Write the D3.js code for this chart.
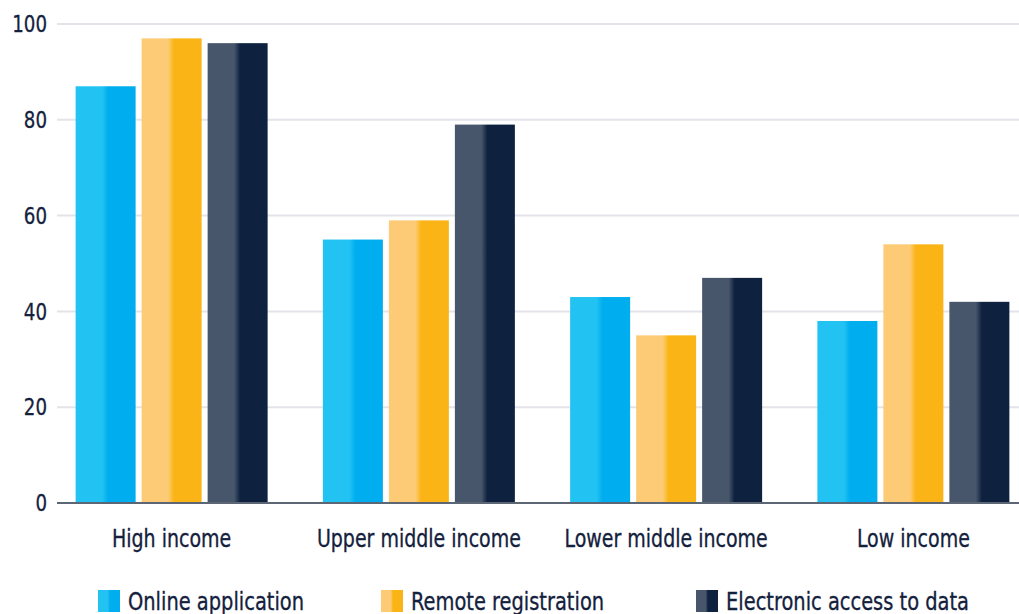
<!DOCTYPE html>
<html>
<head>
<meta charset="utf-8">
<script src="https://cdn.jsdelivr.net/npm/d3@7"></script>
<style>
  html, body { margin: 0; padding: 0; background: #ffffff; }
  svg { display: block; }
  text { font-family: "DejaVu Sans Condensed", "DejaVu Sans", sans-serif; fill: #14213d; }
</style>
</head>
<body>
<svg id="chart" width="1019" height="614"></svg>
<script>
// Income groups and the three e-service indicators (share, %)
const categories = ["High income", "Upper middle income", "Lower middle income", "Low income"];
const seriesNames = ["Online application", "Remote registration", "Electronic access to data"];
const onlineApplication = [87, 55, 43, 38];
const remoteRegistration = [97, 59, 35, 54];
const electronicAccess = [96, 79, 47, 42];
const yTicks = [0, 20, 40, 60, 80, 100];

const seriesValues = [onlineApplication, remoteRegistration, electronicAccess];
// Two-tone fills: lighter left half, darker right half
const seriesColors = [
  { light: "#22c3f3", dark: "#00aeef" },
  { light: "#fdcb76", dark: "#fbb416" },
  { light: "#48566b", dark: "#0e2240" }
];

const svg = d3.select("#chart");
const plotLeft = 57, plotRight = 1019, plotTop = 24, plotBottom = 503;
const narrow = 0.88; // horizontal squeeze for the condensed lettering

const defs = svg.append("defs");
seriesColors.forEach((c, i) => {
  const g = defs.append("linearGradient")
    .attr("id", "grad" + i)
    .attr("x1", "0%").attr("x2", "100%").attr("y1", "0%").attr("y2", "0%");
  g.append("stop").attr("offset", "0%").attr("stop-color", c.light);
  g.append("stop").attr("offset", "44%").attr("stop-color", c.light);
  g.append("stop").attr("offset", "54%").attr("stop-color", c.dark);
  g.append("stop").attr("offset", "100%").attr("stop-color", c.dark);
});

const y = d3.scaleLinear().domain([0, 100]).range([plotBottom, plotTop]);
const x0 = d3.scaleBand().domain(categories).range([48, 1037]).padding(0);
const groupWidth = 192;
const x1 = d3.scaleBand().domain(d3.range(seriesNames.length))
  .range([0, groupWidth]).paddingInner(6 / 66).paddingOuter(0);

// Gridlines
svg.append("g")
  .selectAll("line")
  .data(yTicks.filter(t => t !== 0))
  .join("line")
  .attr("x1", plotLeft).attr("x2", plotRight)
  .attr("y1", d => y(d)).attr("y2", d => y(d))
  .attr("stroke", "#e2e4ea").attr("stroke-width", 2);

// Y tick labels
svg.append("g")
  .selectAll("text")
  .data(yTicks)
  .join("text")
  .attr("transform", d => `translate(47,${y(d)}) scale(${narrow},1)`)
  .attr("text-anchor", "end")
  .attr("dy", "0.36em")
  .attr("font-size", 23)
  .attr("stroke", "#14213d").attr("stroke-width", 0.3)
  .text(d => d);

// Bars
const groups = svg.append("g")
  .selectAll("g")
  .data(categories)
  .join("g")
  .attr("transform", d => `translate(${x0(d) + (x0.bandwidth() - groupWidth) / 2},0)`);

groups.selectAll("rect")
  .data((d, ci) => seriesValues.map((vals, si) => ({ si, v: vals[ci] })))
  .join("rect")
  .attr("x", d => x1(d.si))
  .attr("width", x1.bandwidth())
  .attr("y", d => y(d.v))
  .attr("height", d => y(0) - y(d.v))
  .attr("fill", d => `url(#grad${d.si})`);

// Baseline
svg.append("line")
  .attr("x1", plotLeft).attr("x2", plotRight)
  .attr("y1", y(0)).attr("y2", y(0))
  .attr("stroke", "#5d6675").attr("stroke-width", 2);

// Category labels
svg.append("g")
  .selectAll("text")
  .data(categories)
  .join("text")
  .attr("transform", d => `translate(${x0(d) + x0.bandwidth() / 2},${plotBottom + 35}) scale(${narrow},1)`)
  .attr("text-anchor", "middle")
  .attr("dy", "0.36em")
  .attr("font-size", 24)
  .attr("stroke", "#14213d").attr("stroke-width", 0.3)
  .text(d => d);

// Legend
const legendX = [98, 381, 696];
const legend = svg.append("g")
  .selectAll("g")
  .data(seriesNames)
  .join("g")
  .attr("transform", (d, i) => `translate(${legendX[i]},590)`);
legend.append("rect")
  .attr("width", 22).attr("height", 22)
  .attr("fill", (d, i) => `url(#grad${i})`);
legend.append("text")
  .attr("transform", `translate(30,11) scale(${narrow + 0.02},1)`)
  .attr("dy", "0.36em")
  .attr("font-size", 24)
  .attr("stroke", "#14213d").attr("stroke-width", 0.3)
  .text(d => d);
</script>
</body>
</html>
